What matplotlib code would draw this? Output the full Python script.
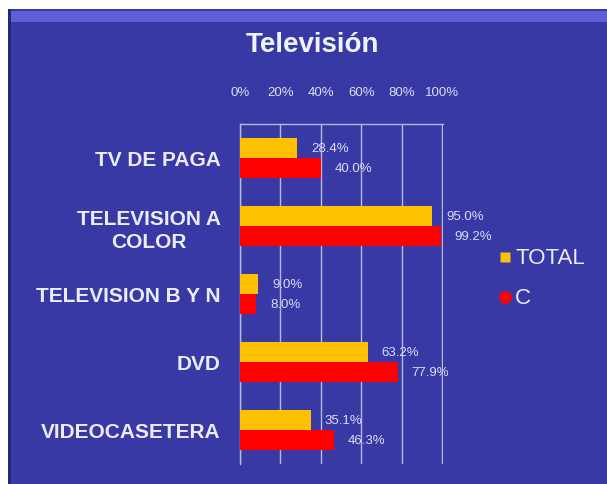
import matplotlib
matplotlib.use("Agg")
import matplotlib.pyplot as plt
from matplotlib.patches import Rectangle
from matplotlib.lines import Line2D
import numpy as np

categories = ["TV DE PAGA", "TELEVISION A\nCOLOR", "TELEVISION B Y N", "DVD", "VIDEOCASETERA"]
total = [28.4, 95.0, 9.0, 63.2, 35.1]
c_vals = [40.0, 99.2, 8.0, 77.9, 46.3]
xticks = [0, 20, 40, 60, 80, 100]
xtick_labels = ["0%", "20%", "40%", "60%", "80%", "100%"]
title = "Televisión"
series_names = ["TOTAL", "C"]
series_colors = ["#ffc000", "#ff0000"]

W, H = 607, 485
fig = plt.figure(figsize=(W / 100, H / 100), dpi=100)
fig.patch.set_facecolor("white")

BLUE = "#3939a6"
fig.add_artist(Rectangle((8 / W, 0), 1 - 8 / W, 1 - 10 / H, transform=fig.transFigure,
                         facecolor=BLUE, edgecolor="none", zorder=0))
fig.add_artist(Rectangle((8 / W, 1 - 23 / H), 1 - 8 / W, 11 / H, transform=fig.transFigure,
                         facecolor="#6060d4", edgecolor="none", zorder=0))
fig.add_artist(Rectangle((8 / W, 0), 3 / W, 1 - 10 / H, transform=fig.transFigure,
                         facecolor="#26267c", edgecolor="none", zorder=0))

ax = fig.add_axes([240 / W, 1 - 465 / H, 203 / W, 340 / H])
ax.set_facecolor("none")

y = np.arange(len(categories))
h = 0.295
ax.barh(y - h / 2, total, height=h, color=series_colors[0], zorder=3)
ax.barh(y + h / 2, c_vals, height=h, color=series_colors[1], zorder=3)

lab_col = "#dcdcf2"
for i in range(len(categories)):
    ax.annotate(f"{total[i]:.1f}%", (total[i], y[i] - h / 2), xytext=(10, 0),
                textcoords="offset points", va="center", ha="left",
                fontsize=9.5, color=lab_col, family="Liberation Sans")
    ax.annotate(f"{c_vals[i]:.1f}%", (c_vals[i], y[i] + h / 2), xytext=(10, 0),
                textcoords="offset points", va="center", ha="left",
                fontsize=9.5, color=lab_col, family="Liberation Sans")

ax.set_xlim(0, 100.4)
ax.set_ylim(4.5, -0.5)
ax.set_xticks(xticks)
ax.set_xticklabels(xtick_labels)
ax.xaxis.tick_top()
ax.tick_params(axis="x", length=0, pad=19, labelsize=9.5, labelcolor=lab_col)
for t in ax.get_xticklabels():
    t.set_family("Liberation Sans")
ax.set_yticks(y)
ax.set_yticklabels(categories)
ax.tick_params(axis="y", length=0, pad=14, labelsize=15, labelcolor="#ececf8")
for t in ax.get_yticklabels():
    t.set_family("Liberation Sans")
    t.set_fontweight("bold")
    t.set_multialignment("center")
    t.set_linespacing(1.3)
ax.grid(axis="x", color="#b8b8dc", linewidth=1, zorder=1)
for s in ["right", "bottom"]:
    ax.spines[s].set_visible(False)
for s in ["top", "left"]:
    ax.spines[s].set_color("#b8b8dc")
    ax.spines[s].set_linewidth(1)

fig.text(312 / W, 1 - 45 / H, title, ha="center", va="center", fontsize=20,
         fontweight="bold", color="#f2f2fa", family="Liberation Sans")

# legend
leg_y = [258, 298]
markers = ["s", "o"]
for name, col, mk, yy in zip(series_names, series_colors, markers, leg_y):
    fig.add_artist(Line2D([505 / W], [1 - yy / H], marker=mk, linestyle="none",
                          markersize=7 if mk == "s" else 9, markerfacecolor=col,
                          markeredgecolor="none", transform=fig.transFigure))
    fig.text(515 / W, 1 - yy / H, name, ha="left", va="center", fontsize=16,
             color="#ececf8", family="Liberation Sans")

fig.savefig("out.png", dpi=100, facecolor=fig.get_facecolor())
